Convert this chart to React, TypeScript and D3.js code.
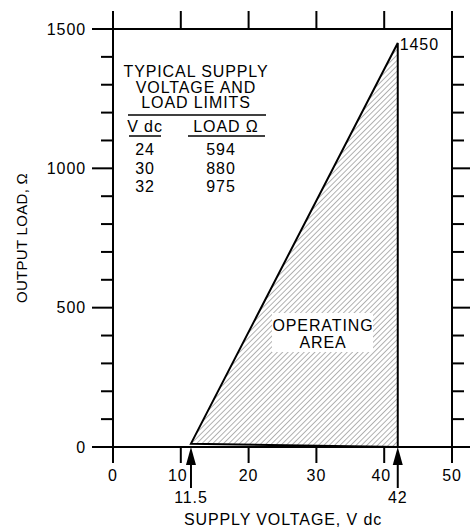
import React, { useEffect, useRef } from 'react';
import * as d3 from 'd3';

// operating area outline (supply volts, load ohms)
const areaPoints: [number, number][] = [[11.5, 12], [42, 1450], [42, 0]];
const xTicks = [0, 10, 20, 30, 40, 50];
const yMajor = [0, 500, 1000, 1500];
const yMinor = d3.range(0, 1501, 100);
const arrowVolts = [11.5, 42];
const topLoad = 1450;

const tableTitle = ['TYPICAL SUPPLY', 'VOLTAGE AND', 'LOAD LIMITS'];
const tableVolts = ['24', '30', '32'];
const tableLoads = ['594', '880', '975'];

const W = 470, H = 528;
const FONT = 'Liberation Sans, Arial, Helvetica, sans-serif';

export default function App() {
  const ref = useRef<SVGSVGElement>(null);

  useEffect(() => {
    const svg = d3.select(ref.current);
    svg.selectAll('*').remove();

    const x = d3.scaleLinear().domain([0, 50]).range([113, 452]);
    const y = d3.scaleLinear().domain([0, 1500]).range([447, 29]);

    const defs = svg.append('defs');
    const pat = defs.append('pattern')
      .attr('id', 'hatch')
      .attr('patternUnits', 'userSpaceOnUse')
      .attr('width', 3.8).attr('height', 3.8)
      .attr('patternTransform', 'rotate(45)');
    pat.append('line')
      .attr('x1', 0).attr('y1', 0).attr('x2', 0).attr('y2', 3.8)
      .attr('stroke', '#555').attr('stroke-width', 0.9);

    // operating area
    svg.append('path')
      .datum(areaPoints)
      .attr('d', d3.line<[number, number]>().x(d => x(d[0])).y(d => y(d[1])).curve(d3.curveLinearClosed))
      .attr('fill', 'url(#hatch)')
      .attr('stroke', '#000')
      .attr('stroke-width', 2)
      .attr('stroke-linejoin', 'miter');

    // white box behind the area label
    svg.append('rect')
      .attr('x', 272).attr('y', 313).attr('width', 101).attr('height', 39)
      .attr('fill', '#fff');

    // frame
    svg.append('rect')
      .attr('x', x(0)).attr('y', y(1500))
      .attr('width', x(50) - x(0)).attr('height', y(0) - y(1500))
      .attr('fill', 'none').attr('stroke', '#000').attr('stroke-width', 2);

    const ticks = svg.append('g').attr('stroke', '#000').attr('stroke-width', 2);
    // left ticks
    yMinor.forEach(v => {
      const major = yMajor.includes(v);
      ticks.append('line')
        .attr('x1', x(0) - (major ? 21 : 12)).attr('x2', x(0))
        .attr('y1', y(v)).attr('y2', y(v));
    });
    // right ticks (none at 1500)
    yMinor.filter(v => v < 1500).forEach(v => {
      const major = yMajor.includes(v);
      ticks.append('line')
        .attr('x1', x(50)).attr('x2', x(50) + (major ? 18 : 12))
        .attr('y1', y(v)).attr('y2', y(v));
    });
    // top and bottom ticks
    xTicks.forEach(v => {
      ticks.append('line')
        .attr('x1', x(v)).attr('x2', x(v))
        .attr('y1', y(1500)).attr('y2', y(1500) - 18);
      ticks.append('line')
        .attr('x1', x(v)).attr('x2', x(v))
        .attr('y1', y(0)).attr('y2', y(0) + 16);
    });

    const txt = svg.append('g')
      .attr('font-family', FONT).attr('font-size', 16)
      .attr('letter-spacing', 0.9).attr('fill', '#000');

    yMajor.forEach(v => {
      txt.append('text')
        .attr('x', 86).attr('y', y(v))
        .attr('text-anchor', 'end').attr('dominant-baseline', 'central')
        .text(v);
    });
    xTicks.forEach(v => {
      txt.append('text')
        .attr('x', x(v) - (v === 10 || v === 40 ? 3 : 0)).attr('y', 481)
        .attr('text-anchor', 'middle')
        .text(v);
    });

    // arrows marking the voltage limits
    arrowVolts.forEach(v => {
      const cx = x(v);
      svg.append('line')
        .attr('x1', cx).attr('x2', cx).attr('y1', 458).attr('y2', 488)
        .attr('stroke', '#000').attr('stroke-width', 2);
      svg.append('path')
        .attr('d', `M${cx},${y(0)} L${cx - 5},${y(0) + 18} L${cx + 5},${y(0) + 18} Z`)
        .attr('fill', '#000');
      txt.append('text')
        .attr('x', cx).attr('y', 503)
        .attr('text-anchor', 'middle')
        .text(v);
    });

    txt.append('text')
      .attr('x', x(42) + 2).attr('y', y(topLoad) + 7)
      .text(topLoad);

    // axis titles
    txt.append('text')
      .attr('x', 283).attr('y', 525)
      .attr('text-anchor', 'middle')
      .text('SUPPLY VOLTAGE, V dc');
    txt.append('text')
      .attr('transform', `translate(27, ${(y(0) + y(1500)) / 2}) rotate(-90)`)
      .attr('text-anchor', 'middle')
      .attr('font-size', 15).attr('letter-spacing', 0.3)
      .text('OUTPUT LOAD, \u03A9');

    // operating area label
    ['OPERATING', 'AREA'].forEach((t, i) => {
      txt.append('text')
        .attr('x', 323).attr('y', 331 + i * 17)
        .attr('text-anchor', 'middle')
        .text(t);
    });

    // table of typical limits
    tableTitle.forEach((t, i) => {
      txt.append('text')
        .attr('x', 196).attr('y', 77 + i * 15.5)
        .attr('text-anchor', 'middle')
        .text(t);
    });
    const tl = svg.append('g').attr('stroke', '#000').attr('stroke-width', 1.5);
    tl.append('line').attr('x1', 128).attr('x2', 266).attr('y1', 115).attr('y2', 115);
    tl.append('line').attr('x1', 129).attr('x2', 161).attr('y1', 136).attr('y2', 136);
    tl.append('line').attr('x1', 188).attr('x2', 265).attr('y1', 136).attr('y2', 136);
    txt.append('text').attr('x', 145).attr('y', 132).attr('text-anchor', 'middle').text('V dc');
    txt.append('text').attr('x', 226).attr('y', 132).attr('text-anchor', 'middle').text('LOAD \u03A9');
    tableVolts.forEach((v, i) => {
      txt.append('text').attr('x', 145).attr('y', 155 + i * 18.5).attr('text-anchor', 'middle').text(v);
      txt.append('text').attr('x', 221).attr('y', 155 + i * 18.5).attr('text-anchor', 'middle').text(tableLoads[i]);
    });
  }, []);

  return (
    <svg ref={ref} width={W} height={H}
      style={{ position: 'absolute', left: 0, top: 0, background: '#fff' }} />
  );
}
